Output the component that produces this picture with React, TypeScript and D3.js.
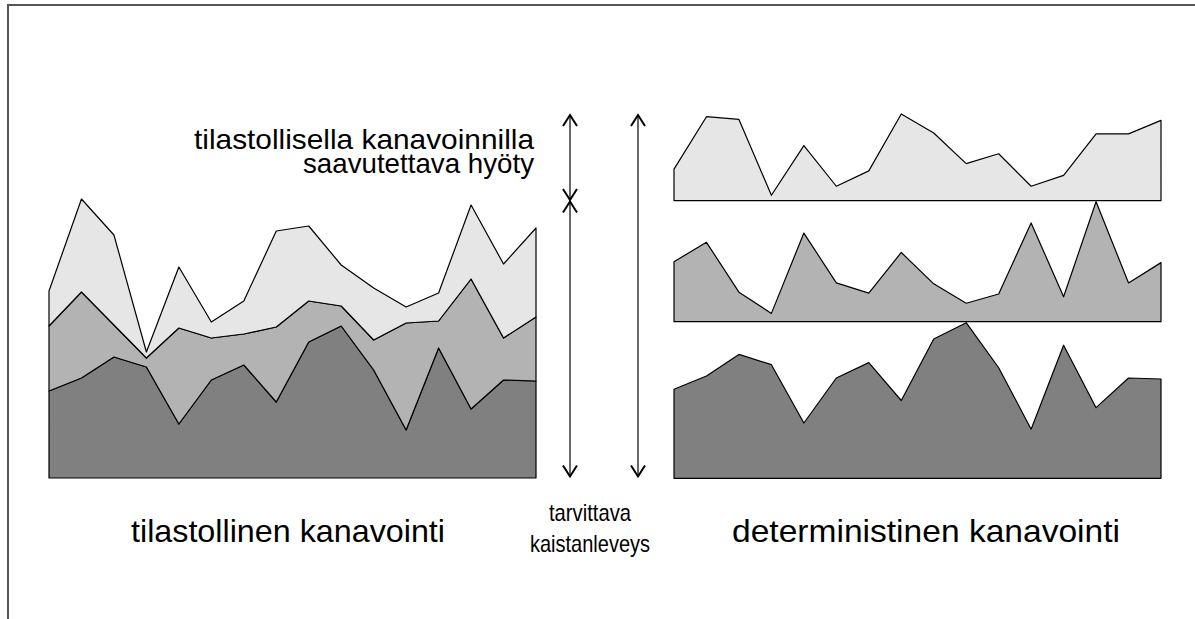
import React from "react";
import * as d3 from "d3";

const width = 1195;
const height = 619;

// sample index along both charts
const steps = d3.range(16);
// traffic of the three sources (px-height units of the left chart)
const sourceA = [87, 100, 121, 111, 54, 98, 113, 76, 136, 152, 108, 48, 130, 69, 98, 97];
const sourceB = [65, 86, 32, 9, 96, 42, 31, 75, 41, 20, 30, 107, 27, 130, 42, 64];
const sourceC = [35, 93, 90, 6, 61, 16, 33, 96, 75, 41, 52, 16, 28, 74, 74, 89];
const sourceKeys = ["a", "b", "c"];
const fills = ["#808080", "#b3b3b3", "#e6e6e6"];

const labelLeft = "tilastollinen kanavointi";
const labelRight = "deterministinen kanavointi";
const labelGain = ["tilastollisella kanavoinnilla", "saavutettava hyöty"];
const labelNeed = ["tarvittava", "kaistanleveys"];

const table = steps.map(i => ({ i, a: sourceA[i], b: sourceB[i], c: sourceC[i] }));

const xLeft = d3.scaleLinear().domain([0, 15]).range([49, 536]);
const xRight = d3.scaleLinear().domain([0, 15]).range([674, 1161]);
const yLeft = d3.scaleLinear().domain([0, 278]).range([478, 200]);

// right side: one panel per source, each with its own baseline
const panels = [
  { key: "c", data: sourceC, fill: fills[2], y: d3.scaleLinear().domain([0, 96]).range([200.7, 114]) },
  { key: "b", data: sourceB, fill: fills[1], y: d3.scaleLinear().domain([0, 130]).range([321.7, 201.7]) },
  { key: "a", data: sourceA, fill: fills[0], y: d3.scaleLinear().domain([0, 152]).range([478.3, 322.7]) }
];

const arrows = [
  { x: 570, y1: 115, y2: 200 },
  { x: 570, y1: 201.5, y2: 476.5 },
  { x: 638, y1: 115, y2: 476.5 }
];

function Arrow({ x, y1, y2 }) {
  const w = 7;
  const h = 11;
  return (
    <g stroke="#000" fill="none">
      <line x1={x} x2={x} y1={y1} y2={y2} strokeWidth={1.2} />
      <path d={`M${x - w},${y1 + h}L${x},${y1}L${x + w},${y1 + h}`} strokeWidth={2} />
      <path d={`M${x - w},${y2 - h}L${x},${y2}L${x + w},${y2 - h}`} strokeWidth={2} />
    </g>
  );
}

export default function App() {
  const stack = d3.stack().keys(sourceKeys)(table);
  const stackArea = d3
    .area()
    .x(d => xLeft(d.data.i))
    .y0(d => yLeft(d[0]))
    .y1(d => yLeft(d[1]));

  const font = "'Liberation Sans', Arial, sans-serif";

  return (
    <svg
      width={width}
      height={height}
      style={{ position: "absolute", left: 0, top: 0, background: "#fff" }}
      fontFamily={font}
    >
      {/* frame */}
      <path d={`M8,${height}V5H${width}`} fill="none" stroke="#555" strokeWidth={2} />

      {/* statistical multiplexing: stacked */}
      <g>
        {stack.map((layer, k) => (
          <path
            key={layer.key}
            d={stackArea(layer) + "Z"}
            fill={fills[k]}
            stroke="#000"
            strokeWidth={1.2}
            strokeLinejoin="round"
          />
        ))}
      </g>

      {/* deterministic multiplexing: separate panels */}
      <g>
        {panels.map(p => {
          const area = d3
            .area()
            .x((d, i) => xRight(i))
            .y0(p.y(0))
            .y1(d => p.y(d));
          return (
            <path
              key={p.key}
              d={area(p.data) + "Z"}
              fill={p.fill}
              stroke="#000"
              strokeWidth={1.2}
              strokeLinejoin="round"
            />
          );
        })}
      </g>

      {arrows.map((a, i) => (
        <Arrow key={i} {...a} />
      ))}

      <text fontSize={28} fill="#000" textAnchor="end">
        <tspan x={534} y={149} textLength={340} lengthAdjust="spacingAndGlyphs">
          {labelGain[0]}
        </tspan>
        <tspan x={534} y={172.5} textLength={231} lengthAdjust="spacingAndGlyphs">
          {labelGain[1]}
        </tspan>
      </text>
      <text fontSize={24} fill="#000" textAnchor="middle">
        <tspan x={590} y={521} textLength={82} lengthAdjust="spacingAndGlyphs">
          {labelNeed[0]}
        </tspan>
        <tspan x={590} y={552} textLength={120} lengthAdjust="spacingAndGlyphs">
          {labelNeed[1]}
        </tspan>
      </text>
      <g fontSize={32} fill="#000">
        <text x={288} y={542} textAnchor="middle" textLength={314} lengthAdjust="spacingAndGlyphs">
          {labelLeft}
        </text>
        <text x={926} y={542} textAnchor="middle" textLength={388} lengthAdjust="spacingAndGlyphs">
          {labelRight}
        </text>
      </g>
    </svg>
  );
}
